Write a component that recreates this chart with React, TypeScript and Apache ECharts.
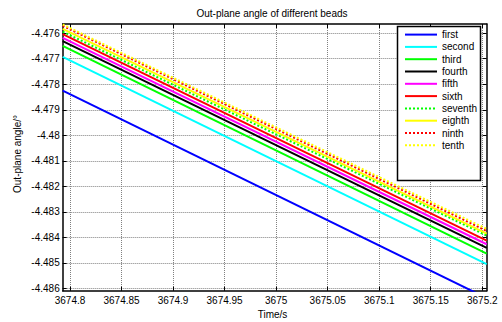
import React, { useEffect, useRef } from "react";
import * as echarts from "echarts";

const SERIES_NAMES = ["first", "second", "third", "fourth", "fifth", "sixth", "seventh", "eighth", "ninth", "tenth"];
const SERIES_COLORS = ["#0000ff", "#00ffff", "#00ff00", "#000000", "#ff00ff", "#ff0000", "#00ff00", "#ffff00", "#ff0000", "#ffff00"];
const SERIES_DOTTED = [false, false, false, false, false, false, true, false, true, true];
// time samples (s)
const TIME_POINTS = [3674.7929, 3675.2043];
// angle values (deg) at the two time samples
const START_VALUES = [-4.47825, -4.47693, -4.4765, -4.47631, -4.47618, -4.47604, -4.47594, -4.47583, -4.47571, -4.47566];
const END_VALUES = [-4.48638, -4.48505, -4.48464, -4.48441, -4.48427, -4.48413, -4.48393, -4.48385, -4.48375, -4.48367];

const X_TICKS = [3674.8, 3674.85, 3674.9, 3674.95, 3675, 3675.05, 3675.1, 3675.15, 3675.2];
const Y_TICKS = [-4.486, -4.485, -4.484, -4.483, -4.482, -4.481, -4.48, -4.479, -4.478, -4.477, -4.476];
const X_MIN = 3674.7929;
const X_MAX = 3675.2043;
const Y_MIN = -4.48609;
const Y_MAX = -4.47564;

const FONT = "'Liberation Sans', Arial, sans-serif";

export default function App() {
  const ref = useRef<HTMLDivElement>(null);
  useEffect(() => {
    if (!ref.current) return;
    const chart = echarts.init(ref.current, null, { renderer: "svg" });
    const axisLine = { show: true, onZero: false, lineStyle: { color: "#000", width: 1.5 } };
    const tickStyle = { lineStyle: { color: "#000", width: 1 } };
    const gridLine = { show: true, lineStyle: { color: "#808080", type: [1, 1], width: 1 } };
    const series = SERIES_NAMES.map((name, i) => ({
      name,
      type: "line",
      xAxisIndex: 0,
      yAxisIndex: 0,
      symbol: "none",
      clip: true,
      lineStyle: {
        color: SERIES_COLORS[i],
        width: 2,
        type: SERIES_DOTTED[i] ? [2, 2] : "solid",
      },
      itemStyle: { color: SERIES_COLORS[i] },
      data: TIME_POINTS.map((t, k) => [t, k === 0 ? START_VALUES[i] : END_VALUES[i]]),
      z: 2 + i * 0.01,
    }));
    chart.setOption({
      animation: false,
      backgroundColor: "#fff",
      grid: {
        left: 62.7,
        right: 15.3,
        top: 24,
        bottom: 31.3,
        containLabel: false,
        outerBoundsMode: "none",
      },
      xAxis: [
        {
          type: "value",
          position: "bottom",
          min: X_MIN,
          max: X_MAX,
          axisLine,
          axisTick: { show: true, inside: true, length: 4, customValues: X_TICKS, ...tickStyle },
          axisLabel: {
            show: true,
            customValues: X_TICKS,
            margin: 5,
            color: "#000",
            fontSize: 10,
            fontFamily: FONT,
            formatter: (v: number) => String(+v.toFixed(2)),
          },
          splitLine: gridLine,
        },
        {
          type: "value",
          position: "top",
          min: X_MIN,
          max: X_MAX,
          axisLine,
          axisTick: { show: true, inside: true, length: 4, customValues: X_TICKS, ...tickStyle },
          axisLabel: { show: false },
          splitLine: { show: false },
        },
      ],
      yAxis: [
        {
          type: "value",
          position: "left",
          min: Y_MIN,
          max: Y_MAX,
          axisLine,
          axisTick: { show: true, inside: true, length: 4, customValues: Y_TICKS, ...tickStyle },
          axisLabel: {
            show: true,
            customValues: Y_TICKS,
            margin: 3,
            color: "#000",
            fontSize: 10,
            fontFamily: FONT,
            formatter: (v: number) => String(+v.toFixed(3)),
          },
          splitLine: gridLine,
        },
        {
          type: "value",
          position: "right",
          min: Y_MIN,
          max: Y_MAX,
          axisLine,
          axisTick: { show: true, inside: true, length: 4, customValues: Y_TICKS, ...tickStyle },
          axisLabel: { show: false },
          splitLine: { show: false },
        },
      ],
      legend: {
        orient: "vertical",
        left: 404,
        top: 29,
        padding: 0,
        itemWidth: 32,
        itemHeight: 14,
        itemGap: 1.1,
        z: 10,
        itemStyle: { opacity: 0 },
        textStyle: { color: "#000", fontSize: 10, fontFamily: FONT },
        data: SERIES_NAMES,
      },
      graphic: [
        {
          type: "rect",
          z: 9,
          shape: { x: 397.5, y: 26.5, width: 83, height: 154 },
          style: { fill: "#fff", stroke: "#000", lineWidth: 1.5 },
        },
        {
          type: "text",
          x: 272,
          y: 13,
          style: {
            text: "Out-plane angle of different beads",
            fill: "#000",
            font: `10px ${FONT}`,
            textAlign: "center",
            textVerticalAlign: "middle",
          },
        },
        {
          type: "text",
          x: 272.5,
          y: 314,
          style: {
            text: "Time/s",
            fill: "#000",
            font: `10px ${FONT}`,
            textAlign: "center",
            textVerticalAlign: "middle",
          },
        },
        {
          type: "text",
          x: 17,
          y: 154,
          rotation: Math.PI / 2,
          style: {
            text: "Out-plane angle/°",
            fill: "#000",
            font: `10px ${FONT}`,
            textAlign: "center",
            textVerticalAlign: "middle",
          },
        },
      ],
      series,
    });
    return () => chart.dispose();
  }, []);
  return (
    <div
      ref={ref}
      style={{ position: "fixed", left: 0, top: 0, width: 502, height: 322 }}
    />
  );
}
